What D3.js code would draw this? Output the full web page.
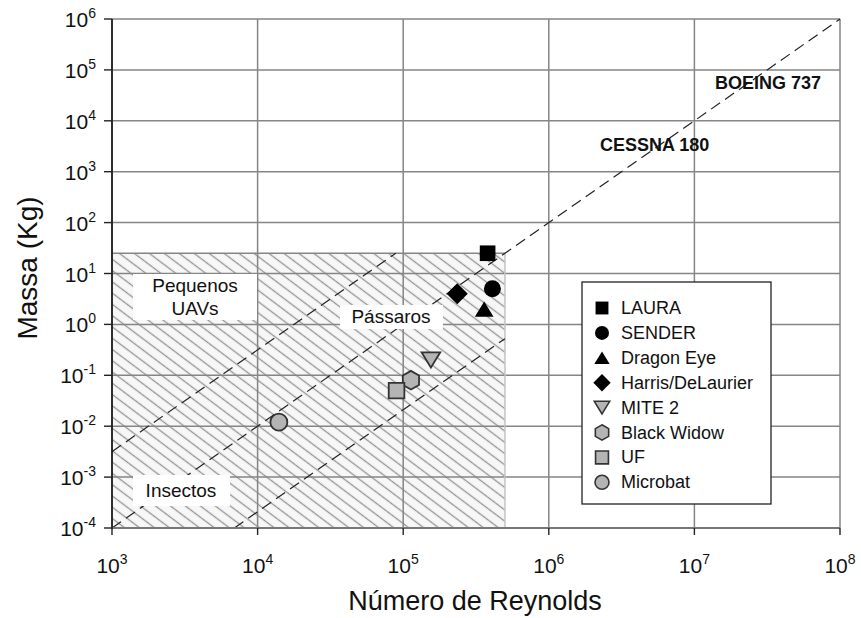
<!DOCTYPE html>
<html>
<head>
<meta charset="utf-8">
<script src="https://cdn.jsdelivr.net/npm/d3@7"></script>
<style>
  body { margin: 0; background: #fff; }
  svg { display: block; }
  text { font-family: Arial, "Liberation Sans", Helvetica, sans-serif; fill: #111; }
</style>
</head>
<body>
<svg id="chart" width="861" height="618"></svg>
<script>
// ---- data ----
const xExponents = [3, 4, 5, 6, 7, 8];
const yExponents = [-4, -3, -2, -1, 0, 1, 2, 3, 4, 5, 6];

const vehicles   = ["LAURA", "SENDER", "Dragon Eye", "Harris/DeLaurier", "MITE 2", "Black Widow", "UF", "Microbat"];
const reynolds   = [3.8e5, 4.1e5, 3.6e5, 2.35e5, 1.55e5, 1.13e5, 9.0e4, 1.4e4];
const massKg     = [25, 5.0, 2.0, 4.0, 0.2, 0.08, 0.05, 0.012];
const shapes     = ["square", "circle", "triangle", "diamond", "triangleDown", "hexagon", "square", "circle"];
const filled     = [true, true, true, true, false, false, false, false];

// shaded zone of small vehicles / flyers
const zoneRe   = [1e3, 5e5];
const zoneMass = [1e-4, 25];

// guide lines (mass ~ Re^2): [Re, mass] end points
const mainGuide  = [[1e3, 1e-4], [1e8, 1e6]];
const upperGuide = [[1e3, Math.pow(10, -2.5)], [Math.pow(10, 4.949), 25]];
const lowerGuide = [[Math.pow(10, 3.84), 1e-4], [5e5, Math.pow(10, -0.28)]];

const zoneLabels     = [["Pequenos", "UAVs"], ["Pássaros"], ["Insectos"]];
const aircraftLabels = ["BOEING 737", "CESSNA 180"];

// ---- layout ----
const svg = d3.select("#chart");
const x = d3.scaleLog().domain([1e3, 1e8]).range([112, 840]);
const y = d3.scaleLog().domain([1e-4, 1e6]).range([528, 19]);

const defs = svg.append("defs");
const hatch = defs.append("pattern")
  .attr("id", "hatch")
  .attr("patternUnits", "userSpaceOnUse")
  .attr("width", 9).attr("height", 20)
  .attr("patternTransform", "rotate(-53)");
hatch.append("rect").attr("width", 9).attr("height", 20).attr("fill", "#f7f7f7");
hatch.append("line")
  .attr("x1", 4.5).attr("y1", 0).attr("x2", 4.5).attr("y2", 20)
  .attr("stroke", "#959595").attr("stroke-width", 1.3);

// shaded zone
svg.append("rect")
  .attr("x", x(zoneRe[0])).attr("y", y(zoneMass[1]))
  .attr("width", x(zoneRe[1]) - x(zoneRe[0]))
  .attr("height", y(zoneMass[0]) - y(zoneMass[1]))
  .attr("fill", "url(#hatch)");

// grid
const grid = svg.append("g").attr("stroke", "#858585").attr("stroke-width", 1.5);
grid.selectAll("line.v").data(xExponents).join("line").attr("class", "v")
  .attr("x1", d => x(Math.pow(10, d))).attr("x2", d => x(Math.pow(10, d)))
  .attr("y1", y(1e6)).attr("y2", y(1e-4));
grid.selectAll("line.h").data(yExponents).join("line").attr("class", "h")
  .attr("x1", x(1e3)).attr("x2", x(1e8))
  .attr("y1", d => y(Math.pow(10, d))).attr("y2", d => y(Math.pow(10, d)));

// zone border
svg.append("line")
  .attr("x1", x(zoneRe[0])).attr("x2", x(zoneRe[1]))
  .attr("y1", y(zoneMass[1])).attr("y2", y(zoneMass[1]))
  .attr("stroke", "#858585").attr("stroke-width", 1.5);
svg.append("line")
  .attr("x1", x(zoneRe[1])).attr("x2", x(zoneRe[1]))
  .attr("y1", y(zoneMass[1])).attr("y2", y(zoneMass[0]))
  .attr("stroke", "#c4c4c4").attr("stroke-width", 1.5);

// dashed guides
const guideLine = d3.line().x(d => x(d[0])).y(d => y(d[1]));
svg.append("g")
  .selectAll("path").data([mainGuide, upperGuide, lowerGuide]).join("path")
  .attr("d", guideLine)
  .attr("fill", "none").attr("stroke", "#222").attr("stroke-width", 1.2)
  .attr("stroke-dasharray", "11,6");

// zone labels on white boxes
const zoneBoxes = [
  { x0: 133, x1: 257, y0: 274, y1: 320, cx: 195, base: [292, 315] },
  { x0: 340, x1: 443, y0: 305, y1: 329, cx: 391, base: [323] },
  { x0: 133, x1: 230, y0: 475, y1: 506, cx: 181, base: [497] }
];
zoneBoxes.forEach((b, i) => {
  svg.append("rect").attr("x", b.x0).attr("y", b.y0)
    .attr("width", b.x1 - b.x0).attr("height", b.y1 - b.y0).attr("fill", "#fff");
  zoneLabels[i].forEach((t, j) => {
    svg.append("text").attr("x", b.cx).attr("y", b.base[j])
      .attr("text-anchor", "middle").attr("font-size", 19).text(t);
  });
});

// aircraft labels
svg.append("text").attr("x", 715).attr("y", 89)
  .attr("font-size", 18).attr("font-weight", "bold").text(aircraftLabels[0]);
svg.append("text").attr("x", 600).attr("y", 151)
  .attr("font-size", 18).attr("font-weight", "bold").text(aircraftLabels[1]);

// markers
function markerPath(shape, s) {
  const p = d3.path();
  switch (shape) {
    case "square": p.rect(-s * 0.46, -s * 0.46, s * 0.92, s * 0.92); break;
    case "circle": p.arc(0, 0, s / 2, 0, 2 * Math.PI); break;
    case "triangle": p.moveTo(0, -s * 0.45); p.lineTo(s * 0.55, s * 0.45); p.lineTo(-s * 0.55, s * 0.45); p.closePath(); break;
    case "triangleDown": p.moveTo(0, s * 0.45); p.lineTo(s * 0.55, -s * 0.45); p.lineTo(-s * 0.55, -s * 0.45); p.closePath(); break;
    case "diamond": p.moveTo(0, -s * 0.62); p.lineTo(s * 0.62, 0); p.lineTo(0, s * 0.62); p.lineTo(-s * 0.62, 0); p.closePath(); break;
    case "hexagon":
      for (let k = 0; k < 6; k++) {
        const a = -Math.PI / 2 + k * Math.PI / 3;
        const px = Math.cos(a) * s * 0.55, py = Math.sin(a) * s * 0.55;
        if (k === 0) p.moveTo(px, py); else p.lineTo(px, py);
      }
      p.closePath(); break;
  }
  return p.toString();
}
const points = vehicles.map((v, i) => ({ name: v, re: reynolds[i], m: massKg[i], shape: shapes[i], filled: filled[i] }));
svg.append("g").selectAll("path").data(points).join("path")
  .attr("transform", d => `translate(${x(d.re)},${y(d.m)})`)
  .attr("d", d => markerPath(d.shape, 17))
  .attr("fill", d => d.filled ? "#000" : "#b4b4b4")
  .attr("stroke", d => d.filled ? "#000" : "#333")
  .attr("stroke-width", d => d.filled ? 0 : 1.8);

// axes
const axisG = svg.append("g");
axisG.append("line").attr("x1", x(1e3)).attr("x2", x(1e8)).attr("y1", y(1e-4)).attr("y2", y(1e-4))
  .attr("stroke", "#777").attr("stroke-width", 2);
axisG.append("line").attr("x1", x(1e3)).attr("x2", x(1e3)).attr("y1", y(1e6)).attr("y2", y(1e-4) + 1)
  .attr("stroke", "#111").attr("stroke-width", 1.6);
axisG.selectAll("line.xt").data(xExponents).join("line").attr("class", "xt")
  .attr("x1", d => x(Math.pow(10, d))).attr("x2", d => x(Math.pow(10, d)))
  .attr("y1", y(1e-4)).attr("y2", y(1e-4) + 7)
  .attr("stroke", "#222").attr("stroke-width", 1.4);
axisG.selectAll("line.yt").data(yExponents).join("line").attr("class", "yt")
  .attr("x1", x(1e3) - 8).attr("x2", x(1e3))
  .attr("y1", d => y(Math.pow(10, d))).attr("y2", d => y(Math.pow(10, d)))
  .attr("stroke", "#222").attr("stroke-width", 1.4);

function powerLabel(sel) {
  sel.append("tspan").attr("font-size", 21).text("10");
  sel.append("tspan").attr("font-size", 14).attr("dy", -9).text(d => String(d).replace("−", "-"));
}
axisG.selectAll("text.xl").data(xExponents).join("text").attr("class", "xl")
  .attr("x", d => x(Math.pow(10, d))).attr("y", 573)
  .attr("text-anchor", "middle").call(powerLabel);
axisG.selectAll("text.yl").data(yExponents).join("text").attr("class", "yl")
  .attr("x", 96).attr("y", d => y(Math.pow(10, d)) + 8)
  .attr("text-anchor", "end").call(powerLabel);

svg.append("text").attr("x", 475).attr("y", 610).attr("text-anchor", "middle")
  .attr("font-size", 27).text("Número de Reynolds");
svg.append("text").attr("transform", "translate(37,268) rotate(-90)").attr("text-anchor", "middle")
  .attr("font-size", 28).text("Massa (Kg)");

// legend
const leg = svg.append("g");
leg.append("rect").attr("x", 582).attr("y", 282).attr("width", 189).attr("height", 222)
  .attr("fill", "#fff").attr("stroke", "#222").attr("stroke-width", 1.3);
const rows = leg.selectAll("g.row").data(points).join("g").attr("class", "row")
  .attr("transform", (d, i) => `translate(0,${308 + i * 24.9})`);
rows.append("path")
  .attr("transform", "translate(602,0)")
  .attr("d", d => markerPath(d.shape, 14))
  .attr("fill", d => d.filled ? "#000" : "#b4b4b4")
  .attr("stroke", d => d.filled ? "#000" : "#333")
  .attr("stroke-width", d => d.filled ? 0 : 1.6);
rows.append("text").attr("x", 621).attr("y", 6).attr("font-size", 18).text(d => d.name);
</script>
</body>
</html>
